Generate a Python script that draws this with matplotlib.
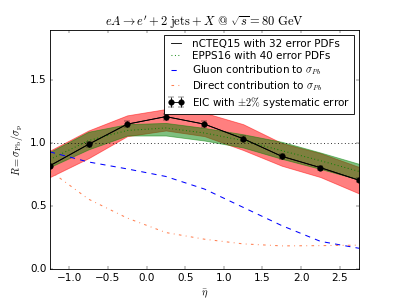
import matplotlib
matplotlib.use("Agg")
import matplotlib.pyplot as plt
import numpy as np

plt.style.use('classic')
plt.rcParams['mathtext.fontset'] = 'cm'

eta = [-1.25, -0.75, -0.25, 0.25, 0.75, 1.25, 1.75, 2.25, 2.75]
ncteq_central = [0.82, 0.99, 1.15, 1.21, 1.15, 1.035, 0.895, 0.805, 0.705]
ncteq_upper = [0.94, 1.10, 1.22, 1.27, 1.24, 1.15, 1.00, 0.92, 0.81]
ncteq_lower = [0.73, 0.88, 1.055, 1.10, 1.055, 0.945, 0.82, 0.73, 0.60]
epps_central = [0.87, 1.02, 1.10, 1.12, 1.08, 1.02, 0.94, 0.86, 0.775]
epps_upper = [0.93, 1.09, 1.15, 1.16, 1.12, 1.07, 1.01, 0.925, 0.835]
epps_lower = [0.81, 0.95, 1.06, 1.06, 1.02, 0.965, 0.875, 0.795, 0.71]
gluon = [0.93, 0.85, 0.795, 0.735, 0.635, 0.49, 0.345, 0.22, 0.165]
direct = [0.78, 0.555, 0.405, 0.29, 0.237, 0.20, 0.184, 0.186, 0.19]
syst = 0.02

DPI = 399 / 6.4
fig = plt.figure(figsize=(6.4, 4.8), dpi=DPI)
ax = fig.add_subplot(111)

ax.fill_between(eta, ncteq_lower, ncteq_upper, color='red', alpha=0.5)
ax.fill_between(eta, epps_lower, epps_upper, color='green', alpha=0.5)
ax.plot(eta, ncteq_central, 'k-', label='nCTEQ15 with 32 error PDFs')
ax.plot(eta, epps_central, color='green', ls=':', lw=1.2, label='EPPS16 with 40 error PDFs')
ax.plot(eta, gluon, color='blue', ls='--', lw=1.2, label=r'Gluon contribution to $\sigma_{Pb}$')
ax.plot(eta, direct, color='coral', ls='-.', lw=1.2, label=r'Direct contribution to $\sigma_{Pb}$')
ax.axhline(1.0, color='k', ls=':')
yerr = [syst * v for v in ncteq_central]
ax.errorbar(eta, ncteq_central, yerr=yerr, fmt='ko-', ms=6.5, capsize=3,
            label=r'EIC with $\pm2\%$ systematic error')

ax.set_xlim(-1.25, 2.75)
ax.set_ylim(0, 1.9)
ax.set_xticks([-1.0, -0.5, 0.0, 0.5, 1.0, 1.5, 2.0, 2.5])
ax.set_yticks([0.0, 0.5, 1.0, 1.5])
ax.set_xlabel(r'$\bar{\eta}$')
ax.set_ylabel(r'$R = \sigma_{\rm Pb}/\sigma_{\rm p}$')
ax.set_title(r'$eA\rightarrow e^{\prime}+2\;\mathrm{jets}+X\ @\ \sqrt{s}=80\ \mathrm{GeV}$')
ax.legend(loc='upper right', numpoints=2, fontsize=12, labelspacing=0.2,
          handlelength=1.6, handletextpad=0.7)

fig.savefig('out.png', dpi=DPI)
